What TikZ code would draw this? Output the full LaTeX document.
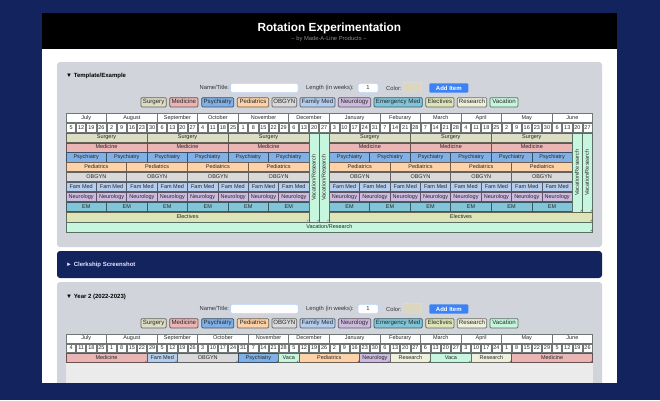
\documentclass[tikz,border=0pt]{standalone}
\usepackage{fontspec}
\setmainfont{Liberation Sans}
\definecolor{pageNavy}{HTML}{12235E}
\definecolor{panelGrey}{HTML}{D1D5DB}
\definecolor{gridGrey}{HTML}{6E7676}
\definecolor{addBlue}{HTML}{3B82F6}
\definecolor{swatchTan}{HTML}{DAD7BE}
\definecolor{barSurgery}{HTML}{DDDCC4}
\definecolor{barMedicine}{HTML}{EAB5B5}
\definecolor{barPsychiatry}{HTML}{80B0E6}
\definecolor{barPediatrics}{HTML}{FDD2A9}
\definecolor{barOBGYN}{HTML}{D9D9D9}
\definecolor{barFamily}{HTML}{B4CDEC}
\definecolor{barNeurology}{HTML}{CDBADF}
\definecolor{barEM}{HTML}{80C6D8}
\definecolor{barElectives}{HTML}{DDE5B8}
\definecolor{barResearch}{HTML}{EEF0DC}
\definecolor{barVacation}{HTML}{C6F6DD}
\tikzset{
    styleText/.style={inner sep=0pt, text height=4pt, text depth=1.2pt, text=black!85, font=\fontsize{5.5}{6}\selectfont}, % text in the table
    styleBar/.style={fill=bar#1, draw=bar#1!45!black, line width=0.7pt}, % one rotation
    styleCell/.style={fill=white, draw=gridGrey, line width=0.6pt}, % month and date cells
    styleChip/.style={fill=bar#1, draw=bar#1!45!black, line width=0.7pt, rounded corners=1pt},
    styleField/.style={fill=white, draw=addBlue!35, line width=0.6pt, rounded corners=1.5pt},
    styleLabel/.style={inner sep=0pt, text height=4.2pt, text depth=1.2pt, text=black!80, font=\fontsize{5.8}{6}\selectfont},
    styleHead/.style={inner sep=0pt, anchor=west, font=\fontsize{6}{7}\bfseries\selectfont},
    pics/grip/.style={code={
        \draw[gridGrey, line width=0.25pt] (-2.2pt,0.7pt) -- (-0.7pt,2.2pt) (-1.3pt,0.7pt) -- (-0.7pt,1.3pt);
    }},
}
\begin{document}
\begin{tikzpicture}[x=1pt, y=-1pt]
    \useasboundingbox (0,0) rectangle (660,400);
    % page
    \fill[pageNavy] (0,0) rectangle (660,400);
    \fill[white] (41.5,13) rectangle (617,383);
    \fill[black] (41.5,13) rectangle (617,49);
    \node[inner sep=0pt, text=white, font=\fontsize{11.8}{14}\bfseries\selectfont] (title) at (329.3,28) {Rotation Experimentation};
    \node[inner sep=0pt, text=black!45, font=\fontsize{5.8}{7}\selectfont] (subtitle) at (329,39.3) {-- by Made-A-Line Products --};
    % panels
    \fill[panelGrey, rounded corners=3pt] (57,62) rectangle (602,247);
    \fill[pageNavy, rounded corners=3pt] (57,251) rectangle (602,278);
    \fill[panelGrey, rounded corners=3pt] (57,282) rectangle (602,398);
    \fill[black!8] (66,363) rectangle (592.7,390);
    \node[styleHead] (head1) at (66,76) {▼ Template/Example};
    \node[styleHead, text=white!90!blue] (head2) at (66,264.5) {► Clerkship Screenshot};
    \node[styleHead] (head3) at (66,296.7) {▼ Year 2 (2022-2023)};
    % form line and legend of both open panels
    \foreach \p/\formY in {1/88, 2/309}{
        \node[styleLabel, anchor=east] (name\p) at (229.3,\formY) {Name/Title:};
        \draw[styleField] (230.5,\formY-4.6) rectangle (298.2,\formY+4.6);
        \node[styleLabel, anchor=west] (length\p) at (306,\formY) {Length (in weeks):};
        \draw[styleField] (358,\formY-4.6) rectangle node[styleLabel] (weeks\p) {1} (378.2,\formY+4.6);
        \node[styleLabel, anchor=west] (color\p) at (386,\formY+1) {Color:};
        \draw[fill=swatchTan, draw=white!85!black, line width=0.8pt, rounded corners=0.5pt] (403,\formY-5.6) rectangle (421.5,\formY+4);
        \draw[fill=addBlue, draw=none, rounded corners=1pt] (429.3,\formY-4.6) rectangle node[inner sep=0pt, text height=4.4pt, text depth=0pt, text=white, font=\fontsize{6}{7}\bfseries\selectfont] (add\p) {Add Item} (468.3,\formY+4.6);
        \foreach \a/\b/\chipCol/\chipName [count=\n] in {141/166.3/Surgery/Surgery, 169.7/198/Medicine/Medicine, 201.7/233.7/Psychiatry/Psychiatry, 237.3/268.7/Pediatrics/Pediatrics, 272/296.7/OBGYN/OBGYN, 300/335/Family/Family Med, 338.3/370.7/Neurology/Neurology, 374/422.3/EM/Emergency Med, 425.7/454/Electives/Electives, 457.3/486.7/Research/Research, 490/518/Vacation/Vacation}
            \draw[styleChip=\chipCol] (\a,\formY+9.7) rectangle node[inner sep=0pt, text height=4.4pt, text depth=1.3pt, text=black!85, font=\fontsize{6.1}{7}\selectfont] (chip\p-\n) {\chipName} (\b,\formY+18.9);
    }
    % everything below is counted in weeks
    \begin{scope}[x=10.127pt, xshift=66pt]
        % month and date cells
        \foreach \a/\l/\monthName [count=\n] in {0/4/July, 4/5/August, 9/4/September, 13/4/October, 17/5/November, 22/4/December, 26/5/January, 31/4/Feburary, 35/4/March, 39/4/April, 43/5/May, 48/4/June}
            \draw[styleCell] (\a,113.3) rectangle node[styleText] (ma\n) {\monthName} (\a+\l,122);
        \foreach \d [count=\i from 0] in {5,12,19,26,2,9,16,23,30,6,13,20,27,4,11,18,25,1,8,15,22,29,6,13,20,27,3,10,17,24,31,7,14,21,28,7,14,21,28,4,11,18,25,2,9,16,23,30,6,13,20,27}
            \draw[styleCell] (\i+0.05,123.3) rectangle node[styleText] (da\i) {\d} (\i+0.95,132);
        \foreach \a/\l/\monthName [count=\n] in {0/4/July, 4/5/August, 9/4/September, 13/5/October, 18/4/November, 22/4/December, 26/5/January, 31/4/Feburary, 35/4/March, 39/4/April, 43/5/May, 48/4/June}
            \draw[styleCell] (\a,334) rectangle node[styleText] (mb\n) {\monthName} (\a+\l,342.8);
        \foreach \d [count=\i from 0] in {4,11,18,25,1,8,15,22,29,5,12,19,26,3,10,17,24,31,7,14,21,28,5,12,19,26,2,9,16,23,30,6,13,20,27,6,13,20,27,3,10,17,24,1,8,15,22,29,5,12,19,26}
            \draw[styleCell] (\i+0.05,344) rectangle node[styleText] (db\i) {\d} (\i+0.95,352.6);
        % rotations of the template, two half years
        \foreach \rowY/\rowLen/\rowName/\rowCol [count=\r] in {133/8/Surgery/Surgery, 142.9/8/Medicine/Medicine, 152.8/4/Psychiatry/Psychiatry, 162.7/6/Pediatrics/Pediatrics, 172.6/6/OBGYN/OBGYN, 182.6/3/Fam Med/Family, 192.5/3/Neurology/Neurology, 202.5/4/EM/EM}
            \foreach \half in {0,26}
                \foreach \k [count=\n] in {0,\rowLen,...,23}
                    \draw[styleBar=\rowCol] (\half+\k,\rowY) rectangle node[styleText] (b\r-\half-\n) {\rowName} (\half+\k+\rowLen,\rowY+9.1);
        \foreach \a/\b/\c [count=\n] in {24/221.9/1, 25/221.9/2, 50/212/3, 51/212/4}{
            \draw[styleBar=Vacation] (\a,133) rectangle node[styleText, rotate=90] (vac\n) {Vacation/Research} (\a+1,\b);
            \pic at (\a+1,\b) {grip};
        }
        \draw[styleBar=Electives] (0,212.6) rectangle node[styleText] (el1) {Electives} (24,221.9);
        \draw[styleBar=Electives] (26,212.6) rectangle node[styleText] (el2) {Electives} (52,221.9);
        \pic at (24,221.9) {grip};
        \pic at (52,221.9) {grip};
        \draw[styleBar=Vacation] (0,222.5) rectangle node[styleText] (vacAll) {Vacation/Research} (52,231.9);
        \pic at (52,231.9) {grip};
        % first rotations of year 2
        \foreach \a/\l/\barName/\barCol [count=\n] in {0/8/Medicine/Medicine, 8/3/Fam Med/Family, 11/6/OBGYN/OBGYN, 17/4/Psychiatry/Psychiatry, 21/2/Vaca/Vacation, 23/6/Pediatrics/Pediatrics, 29/3/Neurology/Neurology, 32/4/Research/Research, 36/4/Vaca/Vacation, 40/4/Research/Research, 44/8/Medicine/Medicine}{
            \draw[styleBar=\barCol] (\a,353.3) rectangle node[styleText] (y\n) {\barName} (\a+\l,362.8);
            \pic at (\a+\l,362.8) {grip};
        }
    \end{scope}
    \fill[pageNavy] (0,383) rectangle (660,400);
\end{tikzpicture}
\end{document}
